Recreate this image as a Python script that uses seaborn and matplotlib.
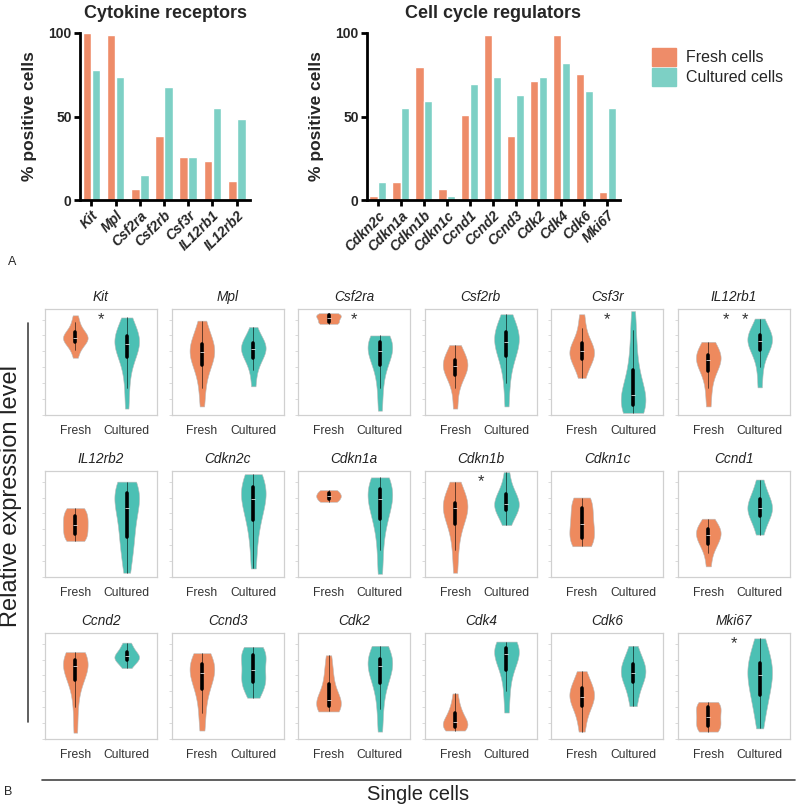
import pandas as pd
import matplotlib.pyplot as plt
import seaborn as sns
from matplotlib.patches import Patch
from matplotlib.lines import Line2D
from matplotlib.ticker import MultipleLocator

# ---- Panel A: % positive cells ----
cyto_genes = ['Kit', 'Mpl', 'Csf2ra', 'Csf2rb', 'Csf3r', 'IL12rb1', 'IL12rb2']
cyto_fresh = [100, 98.8, 6.8, 38.4, 25.8, 23.6, 11.2]
cyto_cultured = [78, 73.6, 15.2, 67.6, 25.8, 55, 48.8]

cycle_genes = ['Cdkn2c', 'Cdkn1a', 'Cdkn1b', 'Cdkn1c', 'Ccnd1', 'Ccnd2', 'Ccnd3',
               'Cdk2', 'Cdk4', 'Cdk6', 'Mki67']
cycle_fresh = [2.6, 11, 79.7, 6.8, 50.6, 98.8, 38.2, 71.5, 98.8, 75.7, 4.8]
cycle_cultured = [11, 54.8, 59, 2.6, 69.3, 73.5, 63, 73.5, 81.9, 65, 54.8]

# ---- Panel B: single cell expression (relative units, per gene) ----
violin_genes = ['Kit', 'Mpl', 'Csf2ra', 'Csf2rb', 'Csf3r', 'IL12rb1',
                'IL12rb2', 'Cdkn2c', 'Cdkn1a', 'Cdkn1b', 'Cdkn1c', 'Ccnd1',
                'Ccnd2', 'Ccnd3', 'Cdk2', 'Cdk4', 'Cdk6', 'Mki67']

fresh_expr = {
    'Kit': [5.4, 6.1, 6.5, 6.8, 7.0, 7.1, 7.2, 7.3, 7.4, 7.5, 7.7, 7.9, 8.3, 8.8, 9.4],
    'Mpl': [0.8, 2.5, 3.8, 4.6, 5.1, 5.5, 5.8, 6.0, 6.2, 6.5, 6.8, 7.3, 8.0, 8.9],
    'Csf2ra': [8.6, 8.6, 8.7, 8.8, 9.0, 9.1, 9.2, 9.3, 9.4, 9.5, 9.6, 9.6],
    'Csf2rb': [0.6, 2.5, 3.5, 4.1, 4.4, 4.6, 4.8, 5.0, 5.4, 6.0, 6.6],
    'Csf3r': [3.5, 4.5, 5.0, 5.4, 5.7, 5.9, 6.1, 6.3, 6.6, 7.2, 8.2, 9.5],
    'IL12rb1': [0.8, 2.5, 3.8, 4.5, 5.0, 5.2, 5.4, 5.6, 5.8, 6.2, 6.9],
    'IL12rb2': [3.4, 3.5, 3.8, 4.1, 4.5, 4.8, 5.1, 5.4, 5.7, 6.1, 6.4, 6.5],
    'Cdkn2c': [],
    'Cdkn1a': [7.1, 7.1, 7.3, 7.5, 7.6, 7.7, 7.8, 8.0, 8.2, 8.2],
    'Cdkn1b': [0.4, 2.5, 4.0, 5.0, 5.7, 6.2, 6.5, 6.7, 6.9, 7.0, 7.4, 8.0, 9.0],
    'Cdkn1c': [2.9, 3.0, 3.4, 3.7, 4.2, 4.6, 5.0, 5.5, 5.9, 6.5, 7.0, 7.4, 7.5],
    'Ccnd1': [1.0, 2.3, 3.0, 3.3, 3.7, 4.0, 4.2, 4.4, 4.6, 5.0, 5.5],
    'Ccnd2': [0.6, 3.0, 4.8, 5.8, 6.3, 6.7, 7.0, 7.2, 7.4, 7.6, 7.9, 8.2],
    'Ccnd3': [0.8, 2.5, 4.0, 5.0, 5.6, 6.0, 6.4, 6.7, 7.0, 7.3, 7.7, 8.1],
    'Cdk2': [2.6, 2.8, 3.0, 3.1, 3.3, 3.5, 3.8, 4.2, 5.0, 5.8, 6.7, 7.9],
    'Cdk4': [0.8, 1.0, 1.1, 1.2, 1.4, 1.6, 1.9, 2.3, 2.7, 3.3, 4.3],
    'Cdk6': [0.7, 2.0, 2.9, 3.4, 3.8, 4.0, 4.3, 4.6, 5.0, 5.6, 6.4],
    'Mki67': [0.7, 0.8, 1.1, 1.4, 1.8, 2.1, 2.5, 2.8, 3.2, 3.4, 3.5],
}

cultured_expr = {
    'Kit': [0.6, 2.5, 4.0, 5.0, 5.6, 6.0, 6.4, 6.6, 6.8, 7.0, 7.2, 7.4, 7.7, 8.0, 8.6, 9.2],
    'Mpl': [2.7, 4.2, 5.0, 5.5, 5.9, 6.1, 6.3, 6.5, 6.7, 6.9, 7.4, 8.3],
    'Csf2ra': [0.4, 2.5, 4.0, 5.0, 5.5, 5.9, 6.2, 6.5, 6.8, 7.0, 7.2, 7.5],
    'Csf2rb': [0.8, 3.0, 4.5, 5.6, 6.0, 6.5, 6.9, 7.2, 7.5, 7.8, 8.0, 8.5, 9.5],
    'Csf3r': [0.2, 0.3, 0.5, 0.7, 0.9, 1.1, 1.3, 1.6, 1.9, 2.3, 2.8, 3.4,
              4.2, 5.2, 6.5, 8.0, 9.8],
    'IL12rb1': [2.6, 4.5, 5.8, 6.4, 6.8, 7.0, 7.2, 7.4, 7.6, 8.0, 9.1],
    'IL12rb2': [0.4, 2.0, 3.2, 3.8, 4.8, 5.8, 6.5, 7.2, 7.6, 7.9, 8.2, 8.6, 9.0],
    'Cdkn2c': [0.8, 3.0, 4.8, 5.6, 6.5, 7.2, 7.6, 8.0, 8.4, 8.7, 9.2, 9.7],
    'Cdkn1a': [0.3, 2.5, 4.5, 5.5, 6.1, 6.8, 7.4, 7.8, 8.0, 8.3, 8.6, 9.0, 9.4],
    'Cdkn1b': [4.9, 5.7, 6.2, 6.5, 6.7, 6.9, 7.2, 7.6, 8.0, 8.6, 9.9],
    'Cdkn1c': [],
    'Ccnd1': [4.0, 5.0, 5.6, 6.0, 6.3, 6.5, 6.8, 7.2, 7.6, 8.2, 9.2],
    'Ccnd2': [6.7, 7.2, 7.5, 7.6, 7.8, 7.9, 8.2, 8.6, 9.1],
    'Ccnd3': [3.9, 4.8, 5.2, 5.5, 5.9, 6.5, 7.2, 7.8, 8.1, 8.3, 8.7],
    'Cdk2': [0.7, 2.8, 4.5, 5.5, 6.2, 6.7, 7.0, 7.3, 7.5, 7.8, 8.2, 8.8],
    'Cdk4': [2.5, 4.5, 6.0, 7.0, 7.6, 8.0, 8.3, 8.5, 8.7, 8.9, 9.2],
    'Cdk6': [3.1, 4.3, 5.3, 5.8, 6.1, 6.4, 6.8, 7.2, 7.7, 8.8],
    'Mki67': [1.0, 2.5, 3.5, 4.2, 4.8, 5.5, 6.0, 6.4, 6.8, 7.2, 7.8, 8.6, 9.5],
}

# asterisk x positions (axes fraction) for significant genes
sig_marks = {'Kit': [0.5], 'Csf2ra': [0.5], 'Csf3r': [0.5],
             'IL12rb1': [0.43, 0.6], 'Cdkn1b': [0.5], 'Mki67': [0.5]}

bar_colors = ['#EE8C69', '#7DD0C5']
violin_colors = ['#EE8A5E', '#4CC0B4']
groups = ['Fresh', 'Cultured']

sns.set_style('white')
plt.rcParams['font.family'] = ['Liberation Sans', 'DejaVu Sans']

fig = plt.figure(figsize=(8, 8.07), dpi=100)


def bar_panel(rect, genes, fresh, cultured, title):
    ax = fig.add_axes(rect)
    df = pd.DataFrame({
        'Gene': genes * 2,
        'Pct': fresh + cultured,
        'Cells': ['Fresh cells'] * len(genes) + ['Cultured cells'] * len(genes),
    })
    sns.barplot(ax=ax, data=df, x='Gene', y='Pct', hue='Cells',
                order=genes, hue_order=['Fresh cells', 'Cultured cells'],
                palette=bar_colors, width=0.74, gap=0.03,
                saturation=1, legend=False)
    ax.set_xlim(-0.47, len(genes) - 0.45)
    ax.set_ylim(0, 100)
    ax.set_yticks([0, 50, 100])
    sns.despine(ax=ax)
    for s in ['left', 'bottom']:
        ax.spines[s].set_linewidth(2)
        ax.spines[s].set_color('black')
    ax.tick_params(axis='both', width=2, length=4, color='black',
                   direction='out', bottom=True, left=True, pad=2)
    ax.set_xticks(range(len(genes)))
    ax.set_xticklabels(genes, rotation=45, ha='right', rotation_mode='anchor',
                       fontstyle='italic', fontweight='bold', fontsize=10)
    for lab in ax.get_yticklabels():
        lab.set_fontweight('bold')
        lab.set_fontsize(10)
    ax.set_xlabel('')
    ax.set_ylabel('% positive cells', fontweight='bold', fontsize=12.5, labelpad=8)
    ax.set_title(title, fontweight='bold', fontsize=13, pad=11)
    return ax


bar_panel([80 / 800, 1 - 200 / 807, 170 / 800, 167 / 807],
          cyto_genes, cyto_fresh, cyto_cultured, 'Cytokine receptors')
bar_panel([367 / 800, 1 - 200 / 807, 253 / 800, 167 / 807],
          cycle_genes, cycle_fresh, cycle_cultured, 'Cell cycle regulators')

fig.legend(handles=[Patch(color=bar_colors[0], label='Fresh cells'),
                    Patch(color=bar_colors[1], label='Cultured cells')],
           loc='upper left', bbox_to_anchor=(638 / 800, 1 - 34 / 807),
           frameon=False, fontsize=11.5, handlelength=1.5, handleheight=1.3,
           labelspacing=0.15, handletextpad=0.6)

# ---- Panel B: violins ----
gs = fig.add_gridspec(3, 6, left=45 / 800, right=790 / 800,
                      top=1 - 309 / 807, bottom=1 - 739 / 807,
                      wspace=0.13, hspace=0.53)

for i, gene in enumerate(violin_genes):
    ax = fig.add_subplot(gs[i // 6, i % 6])
    vals = fresh_expr[gene] + cultured_expr[gene]
    grp = ['Fresh'] * len(fresh_expr[gene]) + ['Cultured'] * len(cultured_expr[gene])
    df = pd.DataFrame({'Group': grp, 'Expr': vals})
    sns.violinplot(ax=ax, data=df, x='Group', y='Expr', hue='Group',
                   order=groups, hue_order=groups, palette=violin_colors,
                   cut=0, density_norm='width', width=0.48, saturation=1,
                   linewidth=0.4, linecolor='#bbbbbb', inner='box',
                   inner_kws=dict(box_width=2.6, whis_width=0.4, color='black'),
                   legend=False)
    ax.set_xlim(-0.59, 1.59)
    ax.set_ylim(0, 10)
    ax.yaxis.set_major_locator(MultipleLocator(1.5))
    ax.set_yticklabels([])
    ax.tick_params(axis='y', left=True, length=2, width=0.5, color='#cccccc')
    ax.tick_params(axis='x', length=0, pad=7, labelsize=8.7, labelcolor='#333333')
    for s in ax.spines.values():
        s.set_color('#d0d0d0')
        s.set_linewidth(0.9)
    ax.set_xlabel('')
    ax.set_ylabel('')
    ax.set_title(gene, fontstyle='italic', fontsize=9.8, pad=6, color='#222222')
    for xm in sig_marks.get(gene, []):
        ax.text(xm, 0.9, '*', transform=ax.transAxes, ha='center', va='center',
                fontsize=12, color='#333333')

# axis-like annotations for panel B
fig.add_artist(Line2D([28 / 800, 28 / 800], [1 - 323 / 807, 1 - 722 / 807],
                      color='#444444', lw=1.2))
fig.add_artist(Line2D([42 / 800, 795 / 800], [1 - 780 / 807, 1 - 780 / 807],
                      color='#444444', lw=1.2))
fig.text(11 / 800, 1 - 496 / 807, 'Relative expression level', rotation=90,
         ha='center', va='center', fontsize=17, color='#222222')
fig.text(418 / 800, 1 - 795 / 807, 'Single cells', ha='center', va='center',
         fontsize=14.5, color='#222222')
fig.text(8 / 800, 1 - 262 / 807, 'A', ha='left', va='center', fontsize=9)
fig.text(4 / 800, 1 - 792 / 807, 'B', ha='left', va='center', fontsize=9)

fig.savefig('out.png', dpi=100)
